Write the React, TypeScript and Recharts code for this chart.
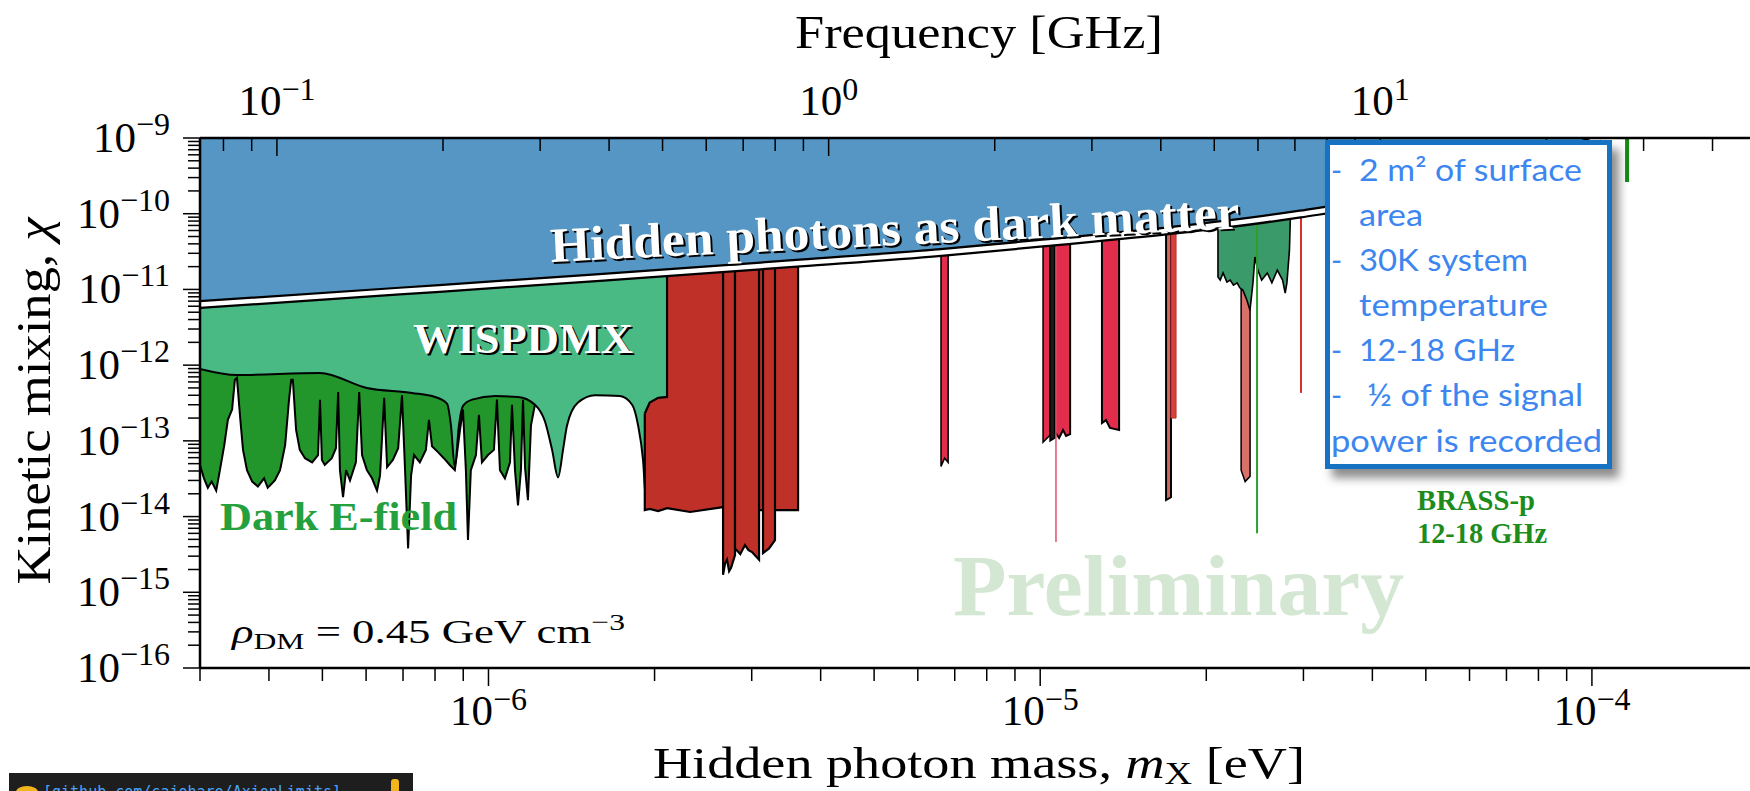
import React from "react";
import { Area, ComposedChart, Line, XAxis, YAxis } from "recharts";

// axis ranges
const MASS_MIN = 3e-7;
const MASS_MAX = 2e-4;
const CHI_MIN = 1e-16;
const CHI_MAX = 1e-9;
const EV_PER_GHZ = 4.135667e-6;

const massDecades = [-7, -6, -5, -4];
const freqDecades = [-2, -1, 0, 1];
const chiDecades = [-16, -15, -14, -13, -12, -11, -10, -9];

// hidden photon dark matter boundary
const hpMass = [3.0e-7, 6.9e-7, 1.59e-6, 3.67e-6, 6.61e-6, 1.01e-5, 1.72e-5, 2.96e-5, 5.53e-5, 1.035e-4];
const hpChi = [6.3e-12, 9.5e-12, 1.44e-11, 2.23e-11, 3.07e-11, 4.1e-11, 6.0e-11, 9.9e-11, 2.25e-10, 1.0e-9];

// Dark E-field lower edge
const darkEMass = [
  3.0e-7, 3.05e-7, 3.1e-7, 3.15e-7, 3.21e-7, 3.26e-7, 3.32e-7, 3.37e-7, 3.43e-7, 3.47e-7,
  3.5e-7, 3.55e-7, 3.59e-7, 3.65e-7, 3.73e-7, 3.82e-7, 3.92e-7, 3.98e-7, 4.1e-7, 4.19e-7,
  4.28e-7, 4.35e-7, 4.39e-7, 4.42e-7, 4.48e-7, 4.55e-7, 4.65e-7, 4.79e-7, 4.91e-7, 4.95e-7,
  4.99e-7, 5.05e-7, 5.2e-7, 5.29e-7, 5.34e-7, 5.38e-7, 5.45e-7, 5.52e-7, 5.61e-7, 5.75e-7,
  5.83e-7, 5.9e-7, 6.02e-7, 6.15e-7, 6.28e-7, 6.36e-7, 6.47e-7, 6.55e-7, 6.71e-7, 6.86e-7,
  6.97e-7, 7.06e-7, 7.15e-7, 7.24e-7, 7.33e-7, 7.51e-7, 7.7e-7, 7.8e-7, 7.9e-7, 8.1e-7,
  8.3e-7, 8.51e-7, 8.69e-7, 8.88e-7, 8.99e-7, 9.1e-7, 9.18e-7, 9.29e-7, 9.49e-7, 9.61e-7,
  9.73e-7, 9.98e-7, 1.023e-6, 1.036e-6, 1.049e-6, 1.071e-6, 1.094e-6, 1.103e-6, 1.117e-6, 1.131e-6,
  1.145e-6, 1.155e-6, 1.165e-6, 1.179e-6, 1.194e-6, 1.214e-6,
];
const darkEChi = [
  4.8e-14, 3.2e-14, 2.4e-14, 2.9e-14, 2.2e-14, 4.1e-14, 8.8e-14, 1.9e-13, 2.6e-13, 6.4e-13,
  6.8e-13, 1.9e-13, 7.6e-14, 4.1e-14, 2.9e-14, 2.5e-14, 3.2e-14, 2.4e-14, 3.0e-14, 4.1e-14,
  8.8e-14, 3.5e-13, 6.4e-13, 6.4e-13, 1.4e-13, 7.6e-14, 5.9e-14, 5.2e-14, 6.5e-14, 3.5e-13,
  5.6e-14, 4.8e-14, 5.9e-14, 8.0e-14, 4.4e-13, 4.1e-14, 1.8e-14, 4.1e-14, 3.0e-14, 5.2e-14,
  4.4e-13, 6.5e-14, 4.1e-14, 3.2e-14, 2.2e-14, 3.5e-14, 3.7e-13, 4.5e-14, 5.6e-14, 8.0e-14,
  4.0e-13, 4.1e-14, 3.8e-15, 3.5e-14, 6.5e-14, 5.2e-14, 7.6e-14, 1.9e-13, 8.5e-14, 7.1e-14,
  5.9e-14, 4.8e-14, 4.1e-14, 1.4e-13, 2.6e-13, 4.1e-14, 4.9e-15, 4.1e-14, 6.5e-14, 2.2e-13,
  5.2e-14, 6.5e-14, 7.6e-14, 3.5e-13, 4.1e-14, 3.2e-14, 5.2e-14, 3.0e-13, 4.1e-14, 1.4e-14,
  4.1e-14, 3.5e-13, 4.4e-14, 1.65e-14, 1.6e-13, 3.0e-13,
];

// WISPDMX lower edge
const wispMass = [
  3.0e-7, 3.5e-7, 4.95e-7, 6.02e-7, 7.27e-7, 8.0e-7, 8.41e-7, 8.55e-7, 8.69e-7, 8.84e-7,
  8.99e-7, 9.34e-7, 1.028e-6, 1.131e-6, 1.214e-6, 1.266e-6, 1.304e-6, 1.337e-6, 1.365e-6, 1.388e-6,
  1.453e-6, 1.56e-6, 1.73e-6, 1.821e-6, 1.867e-6, 1.906e-6, 1.93e-6, 2.107e-6,
];
const wispChi = [
  8.9e-13, 7.4e-13, 7.9e-13, 5.0e-13, 4.3e-13, 3.8e-13, 3.1e-13, 1.6e-13, 4.5e-14, 1.6e-13,
  2.9e-13, 3.5e-13, 3.9e-13, 3.8e-13, 3.0e-13, 1.8e-13, 7.6e-14, 3.3e-14, 7.6e-14, 1.6e-13,
  3.2e-13, 4.0e-13, 3.9e-13, 3.0e-13, 1.6e-13, 5.6e-14, 1.65e-14, 1.65e-14,
];

// big red block
const redBlockMass = [1.92e-6, 1.92e-6, 1.96e-6, 2.03e-6, 2.107e-6, 2.107e-6, 2.32e-6, 2.66e-6, 3.11e-6, 3.64e-6, 3.64e-6];
const redBlockLow = [2.3e-13, 1.22e-14, 1.26e-14, 1.18e-14, 1.29e-14, 1.29e-14, 1.15e-14, 1.33e-14, 1.22e-14, 1.22e-14, CHI_MAX];
const redBlockHigh = [2.3e-13, 2.3e-13, 3.2e-13, 3.7e-13, 3.8e-13, CHI_MAX, CHI_MAX, CHI_MAX, CHI_MAX, CHI_MAX, CHI_MAX];

// narrow red bars inside the block
const redBarAMass = [2.662e-6, 2.684e-6, 2.706e-6, 2.73e-6, 2.752e-6, 2.798e-6];
const redBarABottom = [1.7e-15, 2.4e-15, 2.7e-15, 1.9e-15, 2.1e-15, 3.1e-15];
const redBarBMass = [2.798e-6, 2.86e-6, 2.917e-6, 2.96e-6, 3.004e-6, 3.093e-6];
const redBarBBottom = [3.8e-15, 3.2e-15, 4.2e-15, 3.6e-15, 3.4e-15, 2.7e-15];
const redBarCMass = [3.145e-6, 3.225e-6, 3.306e-6];
const redBarCBottom = [3.3e-15, 3.8e-15, 4.9e-15];

// crimson haloscope bars
const bar1Mass = [6.61e-6, 6.71e-6, 6.81e-6];
const bar1Bottom = [4.6e-14, 5.9e-14, 5.2e-14];
const bar2aMass = [1.012e-5, 1.042e-5];
const bar2aBottom = [9.6e-14, 1.19e-13];
const bar2darkMass = [1.042e-5, 1.064e-5];
const bar2darkBottom = [1.0e-13, 1.1e-13];
const bar2bMass = [1.064e-5, 1.082e-5, 1.1e-5, 1.114e-5, 1.133e-5];
const bar2bBottom = [1.31e-13, 1.09e-13, 1.39e-13, 1.16e-13, 1.23e-13];
const bar3Mass = [1.294e-5, 1.316e-5, 1.338e-5, 1.39e-5];
const bar3Bottom = [1.72e-13, 1.88e-13, 1.48e-13, 1.39e-13];
const bar4Mass = [1.691e-5, 1.726e-5];
const bar4Bottom = [1.65e-14, 1.8e-14];
const bar5Mass = [1.726e-5, 1.763e-5];
const bar5Bottom = [2.0e-13, 2.0e-13];
const salmonMass = [2.313e-5, 2.352e-5, 2.401e-5];
const salmonBottom = [4.1e-14, 2.9e-14, 3.4e-14];

// green region around 6 GHz
const greenMass = [
  2.1e-5, 2.12e-5, 2.145e-5, 2.18e-5, 2.21e-5, 2.24e-5, 2.275e-5, 2.3e-5, 2.33e-5, 2.37e-5,
  2.4e-5, 2.43e-5, 2.45e-5, 2.48e-5, 2.52e-5, 2.58e-5, 2.63e-5, 2.69e-5, 2.75e-5, 2.78e-5,
  2.8e-5, 2.83e-5, 2.84e-5,
];
const greenBottom = [
  1.46e-11, 1.33e-11, 1.65e-11, 1.25e-11, 1.33e-11, 1.14e-11, 1.22e-11, 1.05e-11, 9.8e-12, 7.2e-12,
  5.3e-12, 1.22e-11, 2.68e-11, 1.8e-11, 1.33e-11, 1.65e-11, 1.22e-11, 1.8e-11, 1.33e-11, 8.95e-12,
  1.22e-11, 3.3e-11, 8.3e-11,
];

// single-frequency lines: [top chi, lowest chi]
const thinRedMass = [1.068e-5, 1.068e-5];
const thinRedChi = [3.9e-11, 4.6e-15];
const thinGreenMass = [2.472e-5, 2.472e-5];
const thinGreenChi = [7.1e-11, 6.0e-15];
const thinRed2Mass = [2.97e-5, 2.97e-5];
const thinRed2Chi = [8.8e-11, 4.3e-13];
// BRASS-p line, in GHz on the frequency axis
const brassFreq = [28, 28];
const brassChi = [CHI_MAX, 2.62e-10];

const lg = Math.log10;

function logTicks(decades: number[], lo: number, hi: number) {
  const out: number[] = [];
  decades.forEach((n) => {
    for (let k = 1; k <= 9; k++) {
      const v = n + lg(k);
      if (v >= lo - 1e-9 && v <= hi + 1e-9) out.push(v);
    }
  });
  return out;
}

const rangeRows = (mass: number[], low: number[], high: number[]) =>
  mass.map((m, i) => ({ x: lg(m), r: [lg(low[i]), lg(high[i])] }));

// bar outlined on three sides: zero-height rows at both ends give the vertical edges
const barRows = (mass: number[], bottom: number[]) => [
  { x: lg(mass[0]), r: [lg(CHI_MAX), lg(CHI_MAX)] },
  ...mass.map((m, i) => ({ x: lg(m), r: [lg(bottom[i]), lg(CHI_MAX)] })),
  { x: lg(mass[mass.length - 1]), r: [lg(CHI_MAX), lg(CHI_MAX)] },
];

const lineRows = (xs: number[], chi: number[]) => xs.map((m, i) => ({ x: lg(m), y: lg(chi[i]) }));

const X0 = lg(MASS_MIN);
const X1 = lg(MASS_MAX);
const F0 = lg(MASS_MIN / EV_PER_GHZ);
const F1 = lg(MASS_MAX / EV_PER_GHZ);

const massTicks = logTicks(massDecades, X0, X1);
const freqTicks = logTicks(freqDecades, F0, F1);
const chiTicks = logTicks(chiDecades, lg(CHI_MIN), lg(CHI_MAX));

const SERIF = '"Liberation Serif", "DejaVu Serif", serif';

const isDecade = (v: number) => Math.abs(v - Math.round(v)) < 1e-6;
const expText = (v: number) => {
  const e = Math.round(v);
  return e < 0 ? "\u2212" + Math.abs(e) : String(e);
};

function ChiTick(props: any) {
  const { x, y, payload } = props;
  const major = isDecade(payload.value);
  return (
    <g>
      <line x1={x - (major ? 17 : 12)} x2={x} y1={y} y2={y} stroke="#000" strokeWidth={1.5} />
      {major && (
        <text x={x - 30} y={y + 14} textAnchor="end" fontFamily={SERIF} fontSize={43} fill="#000">
          10
          <tspan dy={-17} fontSize={32}>
            {expText(payload.value)}
          </tspan>
        </text>
      )}
    </g>
  );
}

function MassTick(props: any) {
  const { x, y, payload } = props;
  const major = isDecade(payload.value);
  return (
    <g>
      <line x1={x} x2={x} y1={y} y2={y + (major ? 18 : 13)} stroke="#000" strokeWidth={1.5} />
      {major && (
        <text x={x} y={y + 57} textAnchor="middle" fontFamily={SERIF} fontSize={43} fill="#000">
          10
          <tspan dy={-15} fontSize={32}>
            {expText(payload.value)}
          </tspan>
        </text>
      )}
    </g>
  );
}

function FreqTick(props: any) {
  const { x, y, payload } = props;
  const major = isDecade(payload.value);
  return (
    <g>
      <line x1={x} x2={x} y1={y} y2={y + (major ? 18 : 13)} stroke="#000" strokeWidth={1.5} />
      {major && (
        <text x={x} y={y - 23} textAnchor="middle" fontFamily={SERIF} fontSize={43} fill="#000">
          10
          <tspan dy={-15} fontSize={32}>
            {expText(payload.value)}
          </tspan>
        </text>
      )}
    </g>
  );
}

function Band({ data, fill, stroke = "#000", width = 1.5 }: any) {
  return (
    <Area
      xAxisId="m"
      data={data}
      dataKey="r"
      type="linear"
      fill={fill}
      fillOpacity={1}
      stroke={stroke}
      strokeWidth={width}
      strokeLinejoin="miter"
      dot={false}
      activeDot={false}
      isAnimationActive={false}
    />
  );
}

const axisLine = { stroke: "#000", strokeWidth: 2.5 };

export default function App() {
  const blueRows = rangeRows(hpMass, hpChi, hpMass.map(() => CHI_MAX));
  const wispRows = rangeRows(wispMass, wispChi, wispMass.map(() => CHI_MAX));
  const hpRows = lineRows(hpMass, hpChi);

  return (
    <div
      style={{
        position: "absolute",
        left: 0,
        top: 0,
        width: 1750,
        height: 791,
        overflow: "hidden",
        background: "#fff",
      }}
    >
      <ComposedChart width={1760} height={791} margin={{ top: 137, right: 2, bottom: 122, left: 199 }}>
        {Band({ data: barRows(darkEMass, darkEChi), fill: "#22962b", width: 2 })}
        <Area
          xAxisId="m"
          data={wispRows}
          dataKey="r"
          type="monotone"
          fill="#4aba84"
          fillOpacity={1}
          stroke="#000"
          strokeWidth={2}
          dot={false}
          activeDot={false}
          isAnimationActive={false}
        />
        {Band({ data: rangeRows(redBlockMass, redBlockLow, redBlockHigh), fill: "#bf3128", width: 2.2 })}
        {Band({ data: barRows(redBarAMass, redBarABottom), fill: "#bf3128", width: 2.2 })}
        {Band({ data: barRows(redBarBMass, redBarBBottom), fill: "#bf3128", width: 2.2 })}
        {Band({ data: barRows(redBarCMass, redBarCBottom), fill: "#bf3128", width: 2.2 })}
        {Band({ data: barRows(bar1Mass, bar1Bottom), fill: "#e22e4c" })}
        {Band({ data: barRows(bar2aMass, bar2aBottom), fill: "#e22e4c" })}
        {Band({ data: barRows(bar2darkMass, bar2darkBottom), fill: "#1a1a1a" })}
        {Band({ data: barRows(bar2bMass, bar2bBottom), fill: "#e22e4c", width: 2 })}
        {Band({ data: barRows(bar3Mass, bar3Bottom), fill: "#e22e4c", width: 2 })}
        {Band({ data: barRows(bar4Mass, bar4Bottom), fill: "#d06860", width: 2 })}
        {Band({ data: barRows(bar5Mass, bar5Bottom), fill: "#d8403c", stroke: "#c03030", width: 1 })}
        {Band({ data: barRows(salmonMass, salmonBottom), fill: "#d9706a" })}
        {Band({ data: barRows(greenMass, greenBottom), fill: "#3a9a6a", width: 1.6 })}
        <Area
          xAxisId="m"
          data={blueRows}
          dataKey="r"
          type="monotone"
          fill="#5596c4"
          fillOpacity={1}
          stroke="none"
          dot={false}
          activeDot={false}
          isAnimationActive={false}
        />
        <Line xAxisId="m" data={lineRows(thinRedMass, thinRedChi)} dataKey="y" type="linear" stroke="#e2506a" strokeWidth={1.5} dot={false} activeDot={false} isAnimationActive={false} />
        <Line xAxisId="m" data={lineRows(thinGreenMass, thinGreenChi)} dataKey="y" type="linear" stroke="#2ca02c" strokeWidth={2} dot={false} activeDot={false} isAnimationActive={false} />
        <Line xAxisId="m" data={lineRows(thinRed2Mass, thinRed2Chi)} dataKey="y" type="linear" stroke="#d83030" strokeWidth={2} dot={false} activeDot={false} isAnimationActive={false} />
        <Line xAxisId="f" data={lineRows(brassFreq, brassChi)} dataKey="y" type="linear" stroke="#138a13" strokeWidth={4} dot={false} activeDot={false} isAnimationActive={false} />
        <Line xAxisId="m" data={hpRows} dataKey="y" type="monotone" stroke="#000" strokeWidth={9} dot={false} activeDot={false} isAnimationActive={false} />
        <Line xAxisId="m" data={hpRows} dataKey="y" type="monotone" stroke="#fff" strokeWidth={4.5} dot={false} activeDot={false} isAnimationActive={false} />

        <XAxis
          xAxisId="m"
          type="number"
          dataKey="x"
          domain={[X0, X1]}
          allowDataOverflow
          ticks={massTicks}
          interval={0}
          height={1}
          tickSize={0}
          tickMargin={0}
          tickLine={false}
          axisLine={axisLine}
          tick={(p: any) => <MassTick {...p} />}
        />
        <XAxis
          xAxisId="f"
          orientation="top"
          type="number"
          dataKey="x"
          domain={[F0, F1]}
          allowDataOverflow
          ticks={freqTicks}
          interval={0}
          height={1}
          tickSize={0}
          tickMargin={0}
          tickLine={false}
          axisLine={axisLine}
          tick={(p: any) => <FreqTick {...p} />}
        />
        <YAxis
          type="number"
          domain={[lg(CHI_MIN), lg(CHI_MAX)]}
          allowDataOverflow
          ticks={chiTicks}
          interval={0}
          width={1}
          tickSize={0}
          tickMargin={0}
          tickLine={false}
          axisLine={axisLine}
          tick={(p: any) => <ChiTick {...p} />}
        />
      </ComposedChart>

      <svg width={1750} height={791} style={{ position: "absolute", left: 0, top: 0, pointerEvents: "none" }}>
        <defs>
          <filter id="boxShadow" x="-10%" y="-10%" width="130%" height="130%">
            <feDropShadow dx="7" dy="9" stdDeviation="5" floodColor="#000" floodOpacity="0.45" />
          </filter>
        </defs>

        <text x={979} y={48} textAnchor="middle" fontFamily={SERIF} fontSize={46} textLength={368} lengthAdjust="spacingAndGlyphs">
          Frequency [GHz]
        </text>
        <text x={653} y={778} fontFamily={SERIF} fontSize={44} textLength={652} lengthAdjust="spacingAndGlyphs">
          Hidden photon mass, <tspan fontStyle="italic">m</tspan>
          <tspan fontSize={31} dy={6}>X</tspan>
          <tspan dy={-6}> [eV]</tspan>
        </text>
        <text transform="translate(50,401) rotate(-90)" textAnchor="middle" fontFamily={SERIF} fontSize={48} textLength={367} lengthAdjust="spacingAndGlyphs">
          Kinetic mixing, <tspan fontStyle="italic">χ</tspan>
        </text>

        <text x={232} y={643} fontFamily={SERIF} fontSize={34} textLength={393} lengthAdjust="spacingAndGlyphs">
          <tspan fontStyle="italic">ρ</tspan>
          <tspan fontSize={24} dy={6}>DM</tspan>
          <tspan dy={-6}> = 0.45 GeV cm</tspan>
          <tspan fontSize={24} dy={-13}>{"\u22123"}</tspan>
        </text>

        <text x={220} y={530} fontFamily={SERIF} fontWeight="bold" fontSize={40} fill="#24a03c" textLength={237} lengthAdjust="spacingAndGlyphs">
          Dark E-field
        </text>

        <text x={415} y={355} fontFamily={SERIF} fontWeight="bold" fontSize={42} fill="#000" textLength={220} lengthAdjust="spacingAndGlyphs">
          WISPDMX
        </text>
        <text x={413} y={353} fontFamily={SERIF} fontWeight="bold" fontSize={42} fill="#fff" textLength={220} lengthAdjust="spacingAndGlyphs">
          WISPDMX
        </text>

        <g transform="rotate(-2.8 551 262)">
          <text x={553} y={264} fontFamily={SERIF} fontWeight="bold" fontSize={49} fill="#000" textLength={690} lengthAdjust="spacingAndGlyphs">
            Hidden photons as dark matter
          </text>
          <text x={551} y={262} fontFamily={SERIF} fontWeight="bold" fontSize={49} fill="#fff" textLength={690} lengthAdjust="spacingAndGlyphs">
            Hidden photons as dark matter
          </text>
        </g>

        <text x={953} y={615} fontFamily={SERIF} fontWeight="bold" fontSize={86} fill="#d3e7d3" textLength={451} lengthAdjust="spacingAndGlyphs">
          Preliminary
        </text>

        <text x={1417} y={510} fontFamily={SERIF} fontWeight="bold" fontSize={29} fill="#1d8c1d" textLength={118} lengthAdjust="spacingAndGlyphs">
          BRASS-p
        </text>
        <text x={1417} y={543} fontFamily={SERIF} fontWeight="bold" fontSize={29} fill="#1d8c1d" textLength={130} lengthAdjust="spacingAndGlyphs">
          12-18 GHz
        </text>

        <rect x={1327.5} y={142.5} width={282} height={324} fill="#fff" stroke="#1572c2" strokeWidth={5} filter="url(#boxShadow)" />
        <g fontFamily="Lato, 'Open Sans', sans-serif" fontSize={30} fill="#3d86f0">
          <text x={1331} y={181}>-</text>
          <text x={1359} y={181} textLength={223} lengthAdjust="spacingAndGlyphs">2 m² of surface</text>
          <text x={1359} y={226} textLength={64} lengthAdjust="spacingAndGlyphs">area</text>
          <text x={1331} y={271}>-</text>
          <text x={1359} y={271} textLength={169} lengthAdjust="spacingAndGlyphs">30K system</text>
          <text x={1359} y={316} textLength={189} lengthAdjust="spacingAndGlyphs">temperature</text>
          <text x={1331} y={361}>-</text>
          <text x={1359} y={361} textLength={156} lengthAdjust="spacingAndGlyphs">12-18 GHz</text>
          <text x={1331} y={406}>-</text>
          <text x={1367} y={406} textLength={216} lengthAdjust="spacingAndGlyphs">½ of the signal</text>
          <text x={1331} y={452} textLength={271} lengthAdjust="spacingAndGlyphs">power is recorded</text>
        </g>

        <rect x={9} y={773} width={404} height={18} fill="#1e1e1e" />
        <ellipse cx={27} cy={792} rx={11} ry={6} fill="#f2b51e" />
        <text x={43} y={797} fontFamily="'DejaVu Sans Mono', monospace" fontSize={15} fill="#4ba3f5">
          [github.com/cajohare/AxionLimits]
        </text>
        <rect x={391} y={779} width={8} height={14} rx={3} fill="#f2b51e" />
      </svg>
    </div>
  );
}
